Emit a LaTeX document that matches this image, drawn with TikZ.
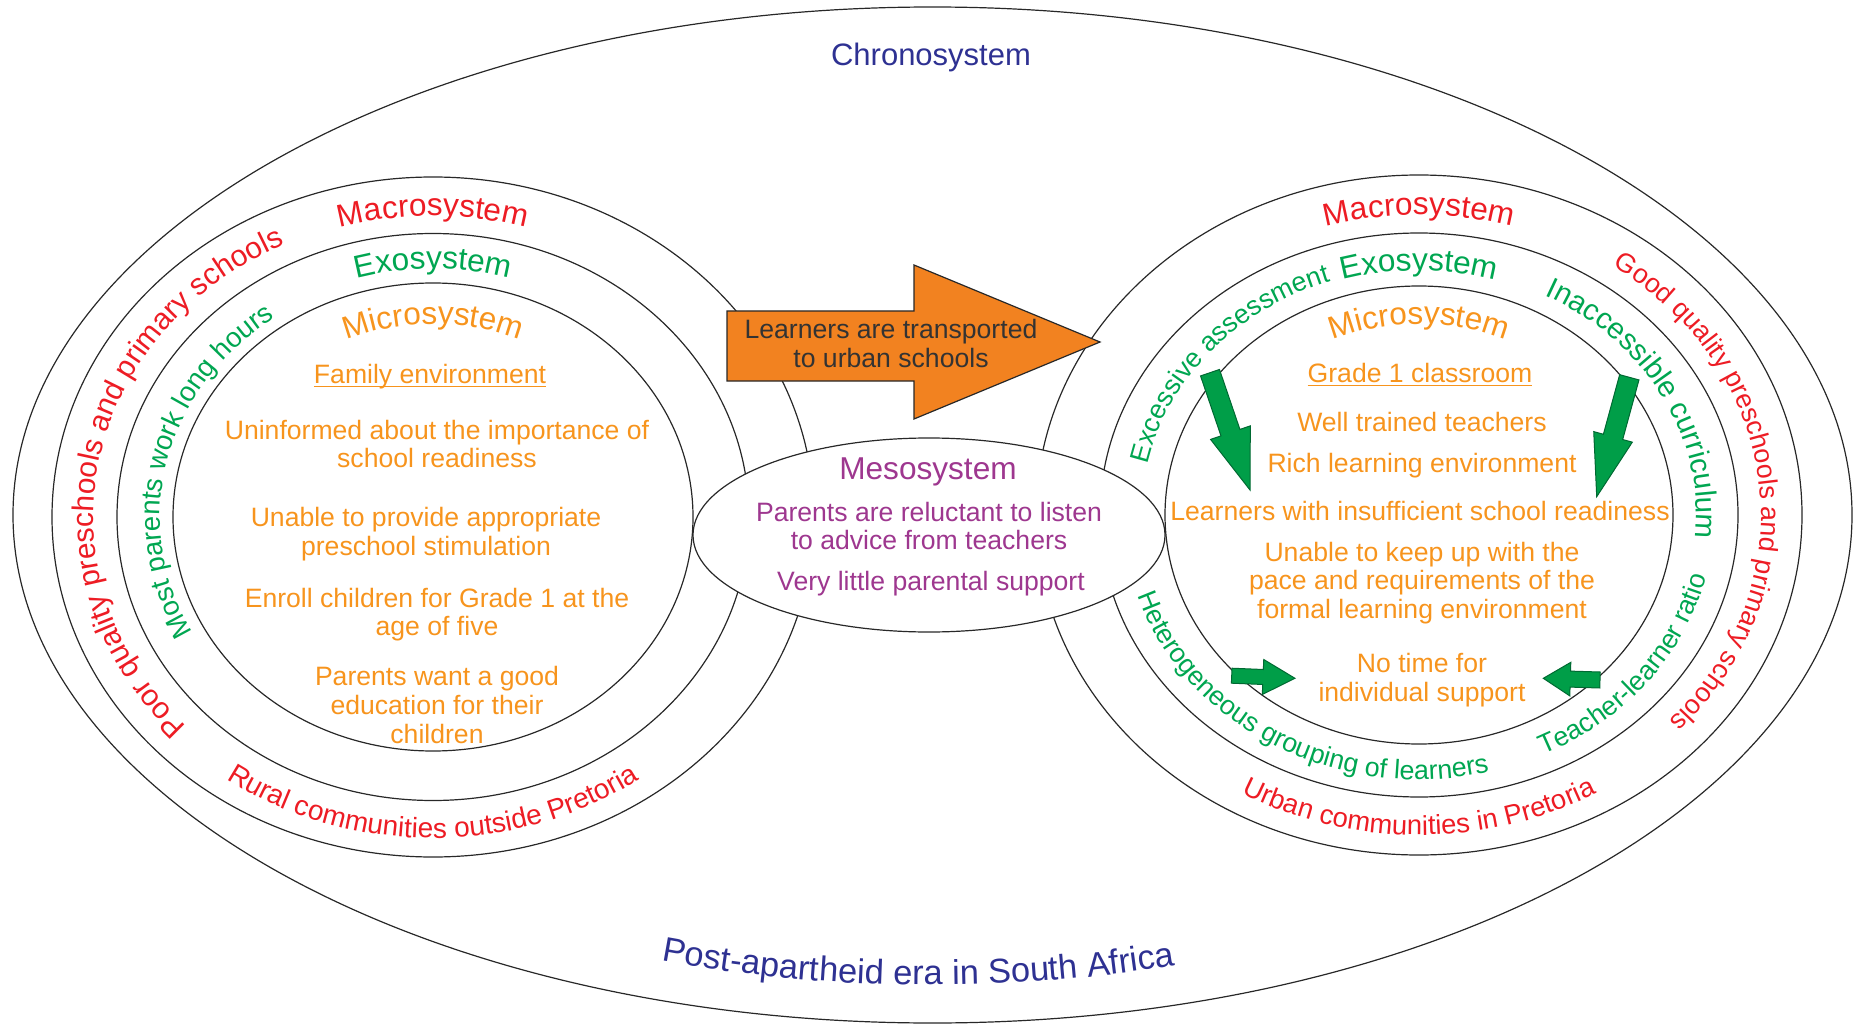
\documentclass[tikz,border=0pt]{standalone}
\usepackage{fontspec}
\setmainfont{Liberation Sans}
\usetikzlibrary{calc,decorations.text}

\definecolor{chronoblue}{RGB}{46,49,146}
\definecolor{macrored}{RGB}{237,28,36}
\definecolor{exogreen}{RGB}{0,166,81}
\definecolor{microorange}{RGB}{247,148,29}
\definecolor{mesopurple}{RGB}{158,55,143}
\definecolor{transportfill}{RGB}{242,130,32}
\definecolor{transporttext}{RGB}{51,51,51}
\definecolor{pushgreen}{RGB}{0,158,72}
\definecolor{pushedge}{RGB}{0,105,50}
\definecolor{ringline}{RGB}{40,40,40}

\newcommand\titlefont{\fontsize{15.8}{17}\selectfont}
\newcommand\bodyfont{\fontsize{13.3}{14.3}\selectfont}
\newcommand\ringfont{\fontsize{13.4}{16}\selectfont}
\newcommand\ulword[1]{\underline{\smash{#1}}\vphantom{Ay}}

% text set along an elliptic arc: centre, x radius, y radius, start, end, format, text
\newcommand\arctext[7]{%
  \path[decorate, decoration={text along path, text align=center, text={|#6|#7}}]
    ($(#1)+(#4:#2 and #3)$) arc[start angle=#4, end angle=#5, x radius=#2, y radius=#3];}

% block arrow: name, tail, tip, shaft half-width, head half-width, head length
\newcommand\pusharrow[6]{%
  \coordinate (#1-h) at ($(#3)!#6!(#2)$);
  \filldraw[fill=pushgreen, draw=pushedge, line width=0.5pt, line join=miter]
    ($(#2)!#4!90:(#3)$) -- ($(#1-h)!#4!90:(#3)$) -- ($(#1-h)!#5!90:(#3)$) -- (#3)
    -- ($(#1-h)!#5!-90:(#3)$) -- ($(#1-h)!#4!-90:(#3)$) -- ($(#2)!#4!-90:(#3)$) -- cycle;}

\tikzset{
  ring/.style={draw=ringline, line width=0.6pt},
  bodytext/.style={font=\bodyfont, text=microorange, align=center, inner sep=0pt},
  mesotext/.style={font=\bodyfont, text=mesopurple, align=center, inner sep=0pt},
}

\begin{document}
\begin{tikzpicture}[x=0.5pt,y=0.5pt]
\useasboundingbox (0,0) rectangle (1858,1025);
\coordinate (O) at (932.5,510);
\coordinate (L) at (433,508);
\coordinate (R) at (1419,510);
\coordinate (M) at (929,490);

% chronosystem boundary
\draw[ring] (O) ellipse [x radius=919.5, y radius=508];
% rural learner: macro, exo, micro
\draw[ring] (L) ellipse [x radius=381, y radius=340];
\draw[ring] (L) ellipse [x radius=316, y radius=283.5];
\draw[ring] (L) ellipse [x radius=260, y radius=234];
% urban school: macro, exo, micro
\draw[ring] (R) ellipse [x radius=383, y radius=340];
\draw[ring] (R) ellipse [x radius=319, y radius=282];
\draw[ring] (R) ellipse [x radius=254, y radius=229];

% mesosystem
\filldraw[ring, fill=white] (M) ellipse [x radius=236, y radius=97];

% transport arrow
\filldraw[ring, fill=transportfill]
  (727,714) -- (914,714) -- (914,760) -- (1100,683) -- (914,606) -- (914,644) -- (727,644) -- cycle;
\node[font=\bodyfont, text=transporttext, align=center, inner sep=0pt] (transport) at (891,681.5)
  {Learners are transported\\to urban schools};

% chronosystem labels
\node[font=\fontsize{15.5}{17}\selectfont, text=chronoblue, inner sep=0pt] (chrono) at (931,968) {Chronosystem};
\arctext{O}{850}{470}{238.9}{298.9}{\fontsize{17.2}{19}\selectfont\color{chronoblue}}{Post-apartheid era in South Africa}

% mesosystem labels
\node[font=\titlefont, text=mesopurple, inner sep=0pt] (mesotitle) at (928,553) {Mesosystem};
\node[mesotext] (meso1) at (929,499) {Parents are reluctant to listen\\to advice from teachers};
\node[mesotext] (meso2) at (931,441) {Very little parental support};

% left nest labels
\arctext{L}{337.5}{301}{150}{30}{\titlefont\color{macrored}}{Macrosystem}
\arctext{L}{277}{248}{150}{30}{\titlefont\color{exogreen}}{Exosystem}
\arctext{L}{219}{193}{150}{30}{\titlefont\color{microorange}}{Microsystem}
\arctext{L}{339.5}{303}{275}{65}{\fontsize{15}{17}\selectfont\color{macrored}}{Poor quality preschools and primary schools}
\arctext{L}{273}{244}{267.5}{67.5}{\fontsize{13.8}{16}\selectfont\color{exogreen}}{Most parents work long hours}
\arctext{L}{357.5}{321}{190}{350}{\fontsize{14}{16}\selectfont\color{macrored}}{Rural communities outside Pretoria}

\node[bodytext] (family) at (430,648) {\ulword{Family environment}};
\node[bodytext] (left1) at (437,581) {Uninformed about the importance of\\school readiness};
\node[bodytext] (left2) at (426,491) {Unable to provide appropriate\\preschool stimulation};
\node[bodytext] (left3) at (437,410.5) {Enroll children for Grade 1 at the\\age of five};
\node[bodytext] (left4) at (437,320) {Parents want a good\\education for their\\children};

% right nest labels
\arctext{R}{340}{300}{150}{30}{\titlefont\color{macrored}}{Macrosystem}
\arctext{R}{275.5}{244.5}{150}{30}{\titlefont\color{exogreen}}{Exosystem}
\arctext{R}{216}{191}{150}{30}{\titlefont\color{microorange}}{Microsystem}
\arctext{R}{342}{302}{106}{-94}{\ringfont\color{macrored}}{Good quality preschools and primary schools}
\arctext{R}{277.5}{246.5}{200}{80}{\ringfont\color{exogreen}}{Excessive assessment}
\arctext{R}{277.5}{246.5}{87.6}{-32.4}{\fontsize{14.7}{16}\selectfont\color{exogreen}}{Inaccessible curriculum}
\arctext{R}{295.5}{264.5}{180}{300}{\ringfont\color{exogreen}}{Heterogeneous grouping of learners}
\arctext{R}{295.5}{264.5}{272}{372}{\ringfont\color{exogreen}}{Teacher-learner ratio}
\arctext{R}{360}{320}{190}{350}{\fontsize{13.7}{16}\selectfont\color{macrored}}{Urban communities in Pretoria}

\node[bodytext] (grade) at (1420,649) {\ulword{Grade 1 classroom}};
\node[bodytext] (right1) at (1422,603) {Well trained teachers};
\node[bodytext] (right2) at (1422,559) {Rich learning environment};
\node[bodytext] (right3) at (1420,514) {Learners with insufficient school readiness};
\node[bodytext] (right4) at (1422,442) {Unable to keep up with the\\pace and requirements of the\\formal learning environment};
\node[bodytext] (right5) at (1422,345) {No time for\\individual support};

% pressure arrows inside the classroom
\coordinate (pa1t) at (1210,652.3);  \coordinate (pa1h) at (1250,535);
\coordinate (pa2t) at (1629.3,647.7); \coordinate (pa2h) at (1596.7,528.3);
\coordinate (pa3t) at (1231.7,349.3); \coordinate (pa3h) at (1295,346.7);
\coordinate (pa4t) at (1600,345);     \coordinate (pa4h) at (1543.3,346.7);
\pusharrow{pa1}{pa1t}{pa1h}{5pt}{10.5pt}{30.3pt}
\pusharrow{pa2}{pa2t}{pa2h}{5pt}{10pt}{31pt}
\pusharrow{pa3}{pa3t}{pa3h}{3.75pt}{8.75pt}{16pt}
\pusharrow{pa4}{pa4t}{pa4h}{4pt}{8.4pt}{13.5pt}
\end{tikzpicture}
\end{document}
